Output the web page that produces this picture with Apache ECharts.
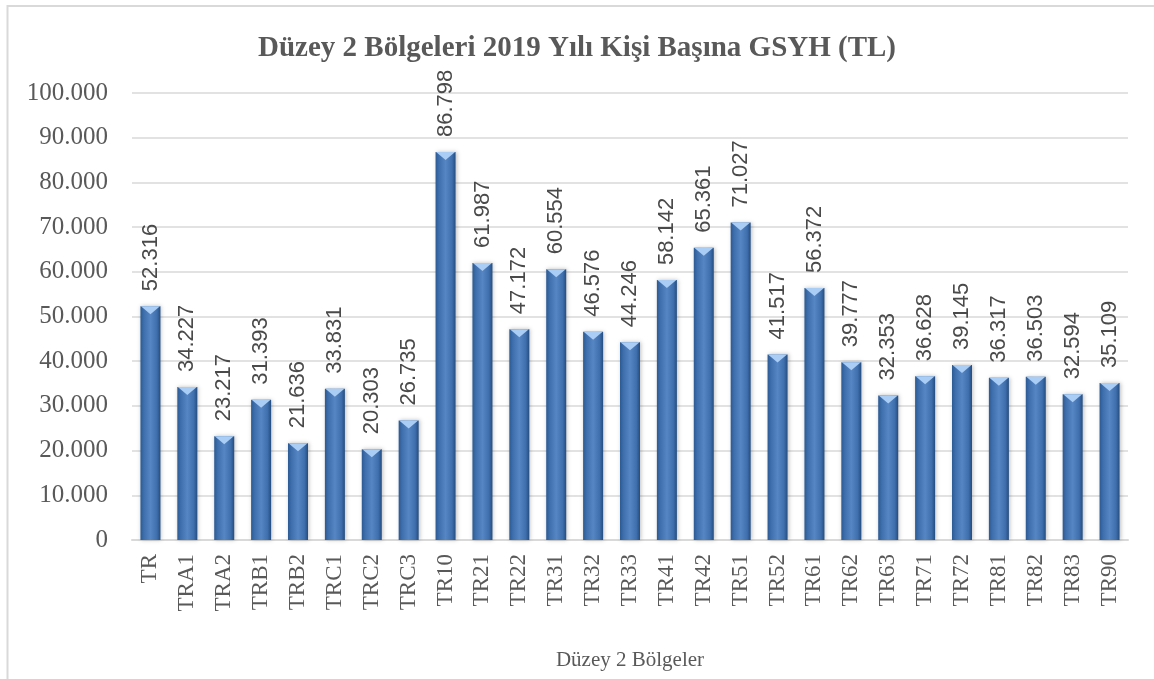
<!DOCTYPE html>
<html>
<head>
<meta charset="utf-8">
<script src="https://cdn.jsdelivr.net/npm/echarts@6/dist/echarts.min.js"></script>
<style>
html,body{margin:0;padding:0;background:#fff;}
#chart{width:1154px;height:679px;}
</style>
</head>
<body>
<div id="chart"></div>
<script>
const categories = ['TR','TRA1','TRA2','TRB1','TRB2','TRC1','TRC2','TRC3','TR10','TR21','TR22','TR31','TR32','TR33','TR41','TR42','TR51','TR52','TR61','TR62','TR63','TR71','TR72','TR81','TR82','TR83','TR90'];
const values = [52316,34227,23217,31393,21636,33831,20303,26735,86798,61987,47172,60554,46576,44246,58142,65361,71027,41517,56372,39777,32353,36628,39145,36317,36503,32594,35109];
const titleText = 'Düzey 2 Bölgeleri 2019 Yılı Kişi Başına GSYH (TL)';
const xAxisName = 'Düzey 2 Bölgeler';

function fmt(v){
  return String(Math.round(v)).replace(/\B(?=(\d{3})+(?!\d))/g, '.');
}

const chart = echarts.init(document.getElementById('chart'));
const textColor = '#595959';
chart.setOption({
  animation: false,
  backgroundColor: '#fff',
  graphic: [{
    type: 'rect',
    shape: {x: 7.5, y: 6, width: 1170, height: 700},
    style: {fill: 'none', stroke: '#d9d9d9', lineWidth: 2},
    silent: true, z: -1
  }],
  title: {
    text: titleText,
    left: 'center',
    top: 29,
    textStyle: {fontFamily: 'Liberation Serif', fontWeight: 'bold', fontSize: 29, color: textColor}
  },
  grid: {left: 132, right: 26, top: 93, bottom: 139},
  xAxis: {
    type: 'category',
    data: categories,
    name: xAxisName,
    nameLocation: 'middle',
    nameGap: 110,
    nameTextStyle: {fontFamily: 'Liberation Serif', fontSize: 21, color: textColor},
    axisLine: {lineStyle: {color: '#d9d9d9', width: 2}},
    axisTick: {show: false},
    axisLabel: {rotate: 90, margin: 14, fontFamily: 'Liberation Serif', fontSize: 23, color: textColor, interval: 0}
  },
  yAxis: {
    type: 'value',
    min: 0, max: 100000, interval: 10000,
    axisLine: {show: false},
    axisTick: {show: false},
    splitLine: {lineStyle: {color: '#d9d9d9', width: 1.5}},
    axisLabel: {margin: 24, fontFamily: 'Liberation Serif', fontSize: 25, color: textColor, formatter: v => fmt(v)}
  },
  series: [{
    type: 'bar',
    data: values,
    barWidth: 20,
    itemStyle: {
      color: new echarts.graphic.LinearGradient(0, 0, 1, 0, [
        {offset: 0, color: '#2b5a94'},
        {offset: 0.18, color: '#3f6fad'},
        {offset: 0.5, color: '#5686c4'},
        {offset: 0.82, color: '#3f6fad'},
        {offset: 1, color: '#244d80'}
      ]),
      shadowColor: 'rgba(0,0,0,0.25)', shadowBlur: 4, shadowOffsetX: 1
    },
    label: {
      show: true,
      position: 'top',
      rotate: 90,
      align: 'left',
      verticalAlign: 'middle',
      distance: 15,
      fontFamily: 'Liberation Sans',
      fontSize: 22,
      color: '#4a4a4a',
      formatter: p => fmt(p.value)
    }
  }, {
    type: 'pictorialBar',
    data: values,
    symbol: 'triangle',
    symbolRotate: 180,
    symbolSize: [19, 8],
    symbolPosition: 'end',
    symbolOffset: [0, 0],
    itemStyle: {color: '#a9cdf5'},
    silent: true,
    z: 3
  }]
});
</script>
</body>
</html>
